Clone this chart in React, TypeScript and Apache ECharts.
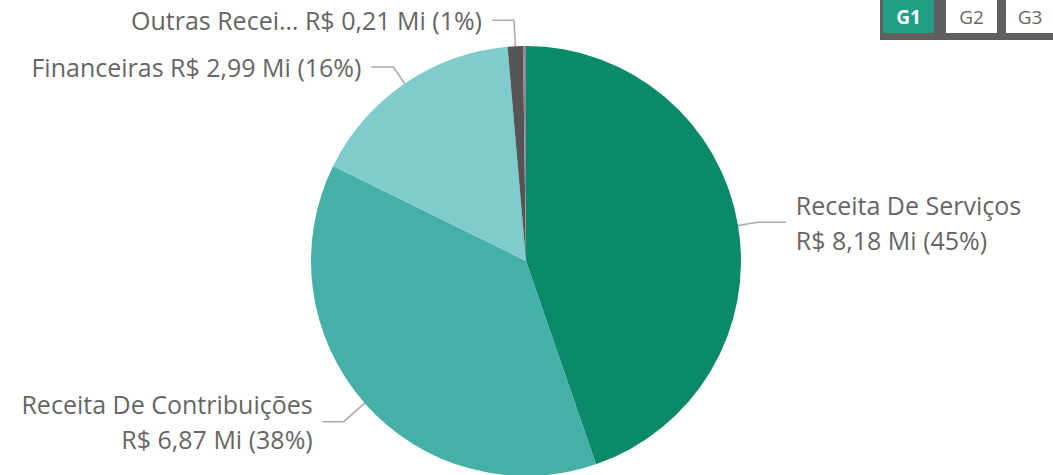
import React, { useEffect, useRef } from "react";
import * as echarts from "echarts";

const categories = ["Receita De Serviços", "Receita De Contribuições", "Financeiras", "Outras Receitas", "Outros"];
const values = [8.18, 6.87, 2.99, 0.21, 0.04];
const colors = ["#0A8A69", "#45B0A8", "#80CCCC", "#555555", "#8C8C8C"];
const twoLine = [true, true, false, false, false];
const showLabel = [true, true, true, true, false];
const buttons = ["G1", "G2", "G3"];

const fmt = (v: number) => v.toFixed(2).replace(".", ",");
const shortName = (n: string) => (n.length > 13 && n.startsWith("Outras") ? n.slice(0, 12) + "…" : n);

export default function App() {
  const ref = useRef<HTMLDivElement>(null);
  useEffect(() => {
    const chart = echarts.init(ref.current!, null, { renderer: "svg" });
    const btnX = [883, 946, 1006];
    const len1 = [20, 28, 20, 26, 0];
    const len2 = [28, 21, 22, 22, 0];
    chart.setOption({
      animation: false,
      backgroundColor: "#ffffff",
      series: [
        {
          type: "pie",
          center: [526, 261],
          radius: 215,
          startAngle: 90,
          clockwise: true,
          percentPrecision: 0,
          avoidLabelOverlap: true,
          label: {
            color: "#666666",
            fontFamily: "Open Sans",
            fontSize: 25,
            lineHeight: 35,
            distanceToLabelLine: 10,
            formatter: (p: any) => {
              const i = p.dataIndex;
              const name = shortName(p.name);
              const rest = `R$ ${fmt(p.value)} Mi (${Math.round(p.percent)}%)`;
              return twoLine[i] ? `${name}\n${rest}` : `${name} ${rest}`;
            },
          },
          labelLine: {
            length: 18,
            length2: 24,
            lineStyle: { color: "#AAAAAA", width: 1.5 },
          },
          data: categories.map((c, i) => ({
            name: c,
            value: values[i],
            itemStyle: { color: colors[i] },
            label: { show: showLabel[i] },
            labelLine: { show: showLabel[i], length: len1[i], length2: len2[i] },
          })),
        },
      ],
      graphic: [
        { type: "rect", shape: { x: 880, y: 0, width: 173, height: 40 }, style: { fill: "#5F5F5F" } },
        ...buttons.map((b, i) => ({
          type: "group",
          children: [
            {
              type: "rect",
              shape: { x: btnX[i], y: 0, width: i === 2 ? 47 : 51, height: 33 },
              style: { fill: i === 0 ? "#22A086" : "#FFFFFF" },
            },
            {
              type: "text",
              x: btnX[i] + (i === 2 ? 24 : 25.5),
              y: 17,
              style: {
                text: b,
                fill: i === 0 ? "#FFFFFF" : "#666666",
                fontFamily: "Open Sans",
                fontSize: 19,
                fontWeight: i === 0 ? "bold" : "normal",
                align: "center",
                verticalAlign: "middle",
              },
            },
          ],
        })),
      ],
    });
    return () => chart.dispose();
  }, []);
  return (
    <div
      ref={ref}
      style={{ position: "fixed", left: 0, top: 0, width: 1053, height: 475 }}
    />
  );
}
